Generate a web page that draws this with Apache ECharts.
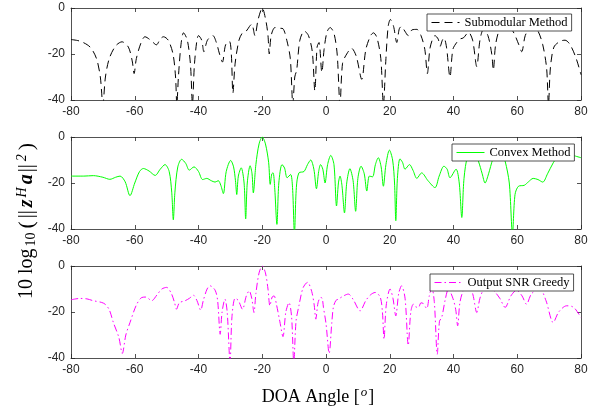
<!DOCTYPE html>
<html><head><meta charset="utf-8">
<script src="https://cdn.jsdelivr.net/npm/echarts@6/dist/echarts.min.js"></script>
<style>html,body{margin:0;padding:0;background:#fff}#c{width:600px;height:414px}</style>
</head><body><div id="c"></div>
<script>
var xTicks = [-80, -60, -40, -20, 0, 20, 40, 60, 80];
var yTicks = [-40, -20, 0];
var seriesNames = ['Submodular Method', 'Convex Method', 'Output SNR Greedy'];

var submodular = [[-80,-13.7],[-77,-14.5],[-74,-17],[-72,-22],[-70.8,-30],[-70,-42],[-69.2,-30],[-68,-22],[-66,-16.5],[-64,-14.7],[-62,-17],[-60.8,-23],[-60.2,-28.5],[-59.5,-22],[-58,-15],[-56.8,-12.5],[-55,-14],[-53.2,-16],[-52,-13.5],[-51,-12.5],[-49.5,-14],[-48,-20],[-47.2,-30],[-46.8,-42],[-46.3,-30],[-45.5,-16],[-44.7,-10.8],[-43.5,-14],[-42.5,-25],[-41.9,-42],[-41.3,-25],[-40.5,-14],[-40,-12],[-39,-14],[-38.3,-19],[-37.2,-14],[-35.5,-12],[-34.4,-15],[-33.4,-20],[-32.5,-23.5],[-31.5,-16],[-30.3,-14.5],[-29.7,-20],[-29.2,-37],[-28.5,-24],[-27.3,-14],[-26.2,-10.8],[-25,-10],[-24,-8],[-23.3,-7],[-22.3,-12],[-21.3,-5],[-20,0],[-18.8,-6],[-18.2,-12],[-17.8,-20],[-17.2,-12],[-16,-8.5],[-14.5,-8.8],[-13.5,-9],[-12.3,-14],[-11.2,-22],[-10.4,-42],[-9.8,-30],[-9.2,-27],[-8.2,-14],[-6.8,-10],[-5.5,-12],[-4.3,-19],[-3.5,-36],[-2.8,-17],[-2.2,-15],[-1.3,-28],[-0.6,-18],[0.3,-10.5],[1.3,-8.5],[2.5,-11],[3.5,-20],[4.4,-42],[5.2,-24],[6.5,-20],[8,-17.5],[9.5,-21],[11.2,-31],[12.5,-18],[14,-12],[14.9,-10.8],[16,-13],[17.2,-22],[18,-42],[18.8,-22],[19.5,-8],[20.2,-5],[21.2,-8],[22.2,-15],[23,-9],[23.7,-8],[24.7,-10],[25.8,-12],[27,-9.5],[28.5,-9.3],[29.8,-12],[31,-18],[31.8,-28.5],[32.7,-17],[34.2,-12],[35.2,-13.5],[35.8,-16.7],[36.5,-14],[37,-13],[37.8,-17],[38.9,-30],[39.8,-18],[41,-15],[42,-13.5],[43.1,-13],[44,-11.5],[44.7,-10.5],[46,-14],[47.3,-25.5],[48.3,-14],[49.4,-9.3],[50.8,-12],[52,-20],[52.5,-27],[53.2,-16],[54.5,-9],[56,-7],[57.5,-8],[59,-11],[60.5,-16],[61.4,-19],[62.5,-12],[64,-8.5],[65,-8],[66.5,-10],[68,-16],[69.2,-26],[69.8,-42],[70.4,-26],[71.5,-17],[73.4,-14.5],[75,-14],[76.6,-16],[78.5,-22],[80,-29]];

var convex = [[-80,-17],[-76,-17],[-73,-16.8],[-70,-17.5],[-67.8,-18.4],[-66,-17.5],[-64.6,-17],[-63,-19.5],[-61.5,-25.5],[-60,-20],[-58.5,-15],[-57.3,-13.7],[-55.5,-14.8],[-53.6,-16.7],[-52,-14],[-50.5,-12],[-49.2,-15],[-48.4,-24],[-47.9,-36],[-47.4,-24],[-46.5,-13],[-45.3,-9.7],[-44,-11.5],[-42.9,-14.4],[-41.4,-13],[-40,-15],[-38.7,-18.5],[-37.4,-18],[-36,-19],[-34.8,-19.6],[-33.8,-19],[-33,-21],[-32.2,-24.6],[-31.3,-15],[-29.9,-10.2],[-29,-13],[-28.4,-19],[-28,-25],[-27.5,-17],[-26.6,-13.4],[-25.7,-20],[-25.2,-35.6],[-24.7,-20],[-23.8,-12.5],[-23.2,-16],[-22.8,-24.3],[-22,-12],[-21,-3],[-20,0],[-19,-3],[-18,-11],[-17.5,-20.6],[-17,-16],[-16.6,-15.6],[-16.1,-22],[-15.4,-38],[-14.8,-20],[-13.8,-12],[-13,-13.5],[-12.2,-17.7],[-11.1,-16.3],[-10.5,-22],[-9.9,-42],[-9.3,-22],[-8.5,-15.6],[-6.9,-15],[-5.8,-12],[-4.8,-10],[-3.8,-14],[-3,-22.5],[-2.3,-15],[-1.7,-12],[-1,-14],[-0.3,-20],[0.5,-12],[1.5,-8],[2.5,-12],[3.3,-30],[3.9,-20],[4.4,-17],[5,-21],[5.8,-33],[6.5,-20],[7.5,-13.8],[8.5,-19],[9.3,-32.3],[10,-18],[11,-12.7],[12,-16],[12.8,-23.5],[13.6,-17],[14.6,-17.3],[15.5,-12],[16.4,-9],[17.3,-13],[18,-21.4],[18.8,-12],[19.9,-5.7],[20.9,-10],[21.5,-20],[21.9,-36.4],[22.4,-18],[23.2,-9.5],[24,-11],[24.8,-14],[26.2,-12],[27.3,-14.5],[28.5,-18],[30,-15.6],[32,-19],[34.2,-22],[35.5,-17],[37,-12.7],[38,-14],[38.9,-17.7],[40.8,-14],[41.8,-20],[42.6,-35],[43.3,-18],[44.5,-8],[46,-7],[47,-9],[47.8,-10.5],[49,-16],[49.9,-20],[51,-16],[52.3,-9.7],[53.5,-6],[55,-6],[56.2,-10.5],[57.5,-20],[58.5,-42],[59.3,-25],[60.4,-21.4],[62.2,-21],[63.5,-19.5],[65,-18],[66.5,-18.5],[68,-19.6],[69.5,-16],[71.3,-11.2],[73,-8],[75,-6.5],[77.6,-8],[80,-9]];

var greedy = [[-80,-14.7],[-77.2,-14.1],[-75,-14.3],[-73,-15.1],[-70.5,-15.8],[-69.3,-16.6],[-68,-19],[-66.7,-24.6],[-65,-31],[-63.9,-38],[-62.8,-30],[-61.5,-24.6],[-59.5,-17],[-57.8,-13.7],[-56.5,-13.5],[-54.7,-15.1],[-53,-12.5],[-51.5,-10],[-50,-9.3],[-48.5,-12],[-47.5,-16],[-46.9,-18.8],[-46,-16],[-44.2,-15.1],[-42.8,-14],[-41.6,-12.7],[-40.5,-15],[-39.3,-19.2],[-38.5,-15],[-37.3,-10],[-36.4,-8.6],[-34.8,-10.5],[-34,-15],[-33.2,-29.7],[-32.6,-20],[-31.7,-14.4],[-31,-20],[-30.1,-42],[-29.5,-22],[-28.5,-14],[-27.5,-15],[-26.2,-18.8],[-25,-13],[-24.1,-10.8],[-23.3,-14],[-22.6,-20.2],[-22,-12],[-21,-3],[-20,0],[-19,-3],[-18.2,-10],[-17.6,-17.3],[-16.9,-13.5],[-16.3,-13],[-15.5,-17],[-14.5,-24],[-13.5,-30.7],[-12.6,-20],[-11.6,-15.9],[-10.8,-22],[-10.1,-42],[-9.4,-24],[-8.5,-17.3],[-7.2,-9.5],[-5.8,-7.1],[-4.5,-11],[-3.7,-17],[-3.2,-23.1],[-2.5,-16],[-1.7,-13.7],[-1.2,-14],[-0.8,-18],[0,-25],[1,-38],[1.8,-25],[2.3,-18],[3.1,-15],[3.9,-14.4],[5.5,-13],[7,-12.2],[8.5,-14.5],[10.7,-19.5],[12.5,-15],[14,-12.5],[15.4,-11.5],[17,-13.5],[17.7,-20],[18.2,-31.9],[18.9,-17],[20.1,-10],[21,-14],[21.9,-21.7],[22.8,-12],[23.7,-8.6],[24.8,-14],[25.8,-34.5],[26.6,-20],[27.4,-16.6],[28.2,-17.8],[29,-18],[29.8,-16],[30.5,-16.3],[31.6,-18.5],[32.4,-13],[33.2,-9.3],[34,-16],[34.9,-38.4],[35.6,-24],[36.3,-22.4],[37.5,-14],[38.4,-10],[39.8,-14],[40.7,-19],[41.3,-26],[42,-16],[43.1,-10.5],[44.5,-8],[46,-12],[47.3,-20.2],[48.3,-14],[49.4,-10.5],[51,-10],[52.5,-10.6],[54.5,-14],[56.2,-18],[58,-13],[59.8,-10.5],[61.5,-13],[62.9,-16.6],[64.5,-12],[67.1,-10],[69,-15],[71.3,-24.6],[73,-20],[75.5,-17.3],[77,-17.5],[78.1,-18.5],[80,-22.4]];

var AX = '#262626';
var tops = [8, 137, 266];
var grids = [], xAxes = [], yAxes = [], series = [], legends = [];
var datas = [submodular, convex, greedy];
var styles = [
  {color: '#000000', type: [8, 5]},
  {color: '#00ff00', type: 'solid'},
  {color: '#ff00ff', type: [7, 3, 1.5, 3]}
];
var legPos = [[427, 14], [452, 144], [430, 274]];
function axisCommon(extra) {
  var o = {axisLine: {show: true, onZero: false, lineStyle: {color: AX, width: 0.8}},
    axisTick: {show: true, inside: true, length: 4, lineStyle: {color: AX, width: 0.8}},
    splitLine: {show: false}};
  for (var k in extra) o[k] = extra[k];
  return o;
}
for (var i = 0; i < 3; i++) {
  grids.push({left: 71, right: 19, top: tops[i], height: 92});
  xAxes.push(axisCommon({type: 'value', gridIndex: i, position: 'bottom', min: xTicks[0], max: xTicks[xTicks.length - 1], interval: 20,
    axisLabel: {color: AX, fontFamily: 'Liberation Sans', fontSize: 12, margin: 6}}));
  xAxes.push(axisCommon({type: 'value', gridIndex: i, position: 'top', min: xTicks[0], max: xTicks[xTicks.length - 1], interval: 20,
    axisLabel: {show: false}}));
  yAxes.push(axisCommon({type: 'value', gridIndex: i, position: 'left', min: yTicks[0], max: yTicks[yTicks.length - 1], interval: 20,
    axisLabel: {color: AX, fontFamily: 'Liberation Sans', fontSize: 12, margin: 6}}));
  yAxes.push(axisCommon({type: 'value', gridIndex: i, position: 'right', min: yTicks[0], max: yTicks[yTicks.length - 1], interval: 20,
    axisLabel: {show: false}}));
  series.push({name: seriesNames[i], type: 'line', xAxisIndex: 2 * i, yAxisIndex: 2 * i, data: datas[i],
    showSymbol: false, symbol: 'none', smooth: 0.3, clip: true, animation: false,
    lineStyle: {color: styles[i].color, width: 1, type: styles[i].type}, itemStyle: {color: styles[i].color}});
  legends.push({data: [seriesNames[i]], left: legPos[i][0], top: legPos[i][1], orient: 'horizontal',
    backgroundColor: '#fff', borderColor: AX, borderWidth: 0.8, borderRadius: 0, padding: [2, 4, 2, 4],
    itemWidth: 28, itemHeight: 12, itemGap: 5, selectedMode: false,
    itemStyle: {opacity: 0},
    lineStyle: {width: 1},
    textStyle: {fontFamily: 'Liberation Serif', fontSize: 12.5, color: '#000'}});
}

var chart = echarts.init(document.getElementById('c'), null, {renderer: 'canvas'});
chart.setOption({
  animation: false,
  backgroundColor: '#fff',
  grid: grids, xAxis: xAxes, yAxis: yAxes, series: series, legend: legends,
  graphic: [
    {type: 'text', x: 318, y: 397, style: {text: 'DOA Angle [{it|o}]', fontFamily: 'Liberation Serif', fontSize: 18, fill: '#000',
      align: 'center', verticalAlign: 'middle',
      rich: {it: {fontFamily: 'Liberation Serif', fontStyle: 'italic', fontSize: 13, padding: [0, 1, 9, 1], fill: '#000'}}}},
    {type: 'text', x: 27, y: 220, rotation: Math.PI / 2,
      style: {text: '{n|10}{lg|log}{sb|10}{pr|(}{nm|||}{bi|z}{sp|H}{bi|a}{nm|||}{sp|2}{pr|)}', fontFamily: 'Liberation Serif', fontSize: 20, fill: '#000',
        align: 'center', verticalAlign: 'middle',
        rich: {
          n: {fontFamily: 'Liberation Serif', fontSize: 20, padding: [0, 5, 0, 0], fill: '#000'},
          lg: {fontFamily: 'Liberation Serif', fontSize: 20, padding: [0, 1, 0, 0], fill: '#000'},
          sb: {fontFamily: 'Liberation Serif', fontSize: 14, padding: [9, 2, 0, 1], fill: '#000'},
          pr: {fontFamily: 'Liberation Serif', fontSize: 22, padding: [0, 2, 0, 2], fill: '#000'},
          nm: {fontFamily: 'Liberation Serif', fontSize: 20, padding: [0, 2, 0, 1], fill: '#000'},
          sp: {fontFamily: 'Liberation Serif', fontSize: 14, fontStyle: 'italic', padding: [0, 2, 10, 1], fill: '#000'},
          bi: {fontFamily: 'Liberation Serif', fontSize: 20, fontStyle: 'italic', fontWeight: 'bold', padding: [0, 1, 0, 1], fill: '#000'}
        }}}
  ]
});
</script></body></html>
